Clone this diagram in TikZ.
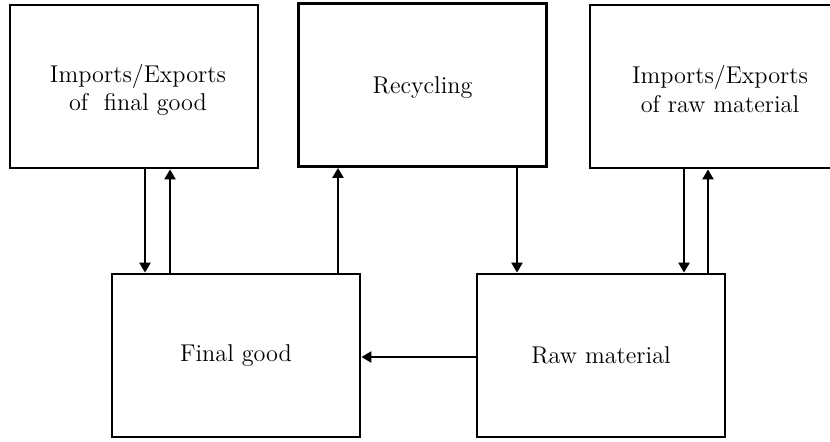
\documentclass[tikz,border=0pt]{standalone}
\usetikzlibrary{arrows.meta}
\begin{document}
\begin{tikzpicture}[x=0.02cm, y=-0.02cm]
            \tikzset{box/.style = {draw, line width=1.6pt, minimum width=4.96cm, minimum height=3.26cm, inner sep=0pt, font=\fontsize{13.8}{16}\selectfont, align=center}}
            \tikzset{flow/.style = {-{Triangle[length=0.2cm, width=0.22cm]}, line width=1.3pt}}

            \useasboundingbox (0,0) rectangle (830,441);
            \clip (0,0) rectangle (830,441);

            % top row
            \node[box] (trfinal) at (134,86.5) {};
            \node[box] (recycle) at (422.5,85) {};
            \node[box] (trraw) at (714,86.5) {};
            \node[align=center, font=\fontsize{13.8}{16}\selectfont] (trfinaltext) at (138,90) {Imports/Exports\\of\ \ final good};
            \node[font=\fontsize{13.8}{16}\selectfont] (recycletext) at (422.5,88) {Recycling};
            \node[align=center, font=\fontsize{13.8}{16}\selectfont] (trrawtext) at (720,89) {Imports/Exports\\of raw material};

            % bottom row
            \node[box] (final) at (236,355.5) {Final good};
            \node[box] (raw) at (601,355.5) {Raw material};

            % flows
            \draw[flow] ([xshift=0.22cm]trfinal.south) -- ([xshift=0.22cm]trfinal.south |- final.north);
            \draw[flow] ([xshift=-1.32cm]final.north) -- ([xshift=-1.32cm]final.north |- trfinal.south);
            \draw[flow] ([xshift=2.04cm]final.north) -- ([xshift=2.04cm]final.north |- recycle.south);
            \draw[flow] ([xshift=1.89cm]recycle.south) -- ([xshift=1.89cm]recycle.south |- raw.north);
            \draw[flow] ([xshift=-0.6cm]trraw.south) -- ([xshift=-0.6cm]trraw.south |- raw.north);
            \draw[flow] ([xshift=2.14cm]raw.north) -- ([xshift=2.14cm]raw.north |- trraw.south);
            \draw[flow] ([yshift=-0.03cm]raw.west) -- ([yshift=-0.03cm]final.east);

        \end{tikzpicture}
\end{document}
